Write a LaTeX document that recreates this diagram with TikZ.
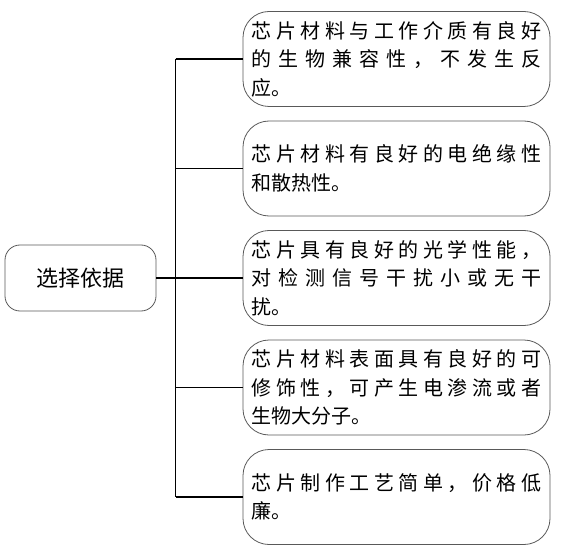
\documentclass[tikz,border=0pt]{standalone}
\usepackage{fontspec}
\newfontfamily\cjk{Noto Sans CJK SC}
\usepackage{tikz}
\newlength{\linewd}
\setlength{\linewd}{290pt}
\makeatletter
\def\jl@end{}
\def\jl@first#1{#1\jl@next}
\def\jl@next#1{\ifx#1\jl@end\else\hfil#1\expandafter\jl@next\fi}
\newcommand{\jline}[1]{\hbox to \linewd{\jl@first#1\jl@end}}
\makeatother

\begin{document}
\begin{tikzpicture}[x=1pt, y=-1pt, line join=round]
			\tikzstyle{root}=[draw=black!65, line width=0.8pt, rounded corners=15pt, minimum width=151pt, minimum height=66pt, inner sep=0pt, font=\cjk\fontsize{22}{26}\selectfont]
			\tikzstyle{item}=[draw=black!65, line width=0.8pt, rounded corners=26pt, minimum width=307pt, minimum height=95pt, inner sep=0pt, align=left, font=\cjk\fontsize{20}{28.5}\selectfont]
			\tikzstyle{link}=[draw=black, line width=1.3pt]
			\useasboundingbox (0,0) rectangle (580,553);

			% Draw root and items
			\node[root] (basis) at (80.5,278) {选择依据};
			\node[item] (r1) at (396.5,59) {\jline{芯片材料与工作介质有良好}\\ \jline{的生物兼容性，不发生反}\\ 应。};
			\node[item] (r2) at (396.5,168.5) {\jline{芯片材料有良好的电绝缘性}\\ 和散热性。};
			\node[item] (r3) at (396.5,278) {\jline{芯片具有良好的光学性能，}\\ \jline{对检测信号干扰小或无干}\\ 扰。};
			\node[item] (r4) at (396.5,387.5) {\jline{芯片材料表面具有良好的可}\\ \jline{修饰性，可产生电渗流或者}\\ 生物大分子。};
			\node[item] (r5) at (396.5,497) {\jline{芯片制作工艺简单，价格低}\\ 廉。};

			% Draw connectors
			\coordinate (trunk) at (175.5,278);
			\path[link] (basis) -- (trunk);
			\path[link] (trunk |- r1) -- (trunk |- r5);
			\foreach \i in {1,...,5}
				\path[link] (trunk |- r\i) -- (r\i.west);
		\end{tikzpicture}
\end{document}
